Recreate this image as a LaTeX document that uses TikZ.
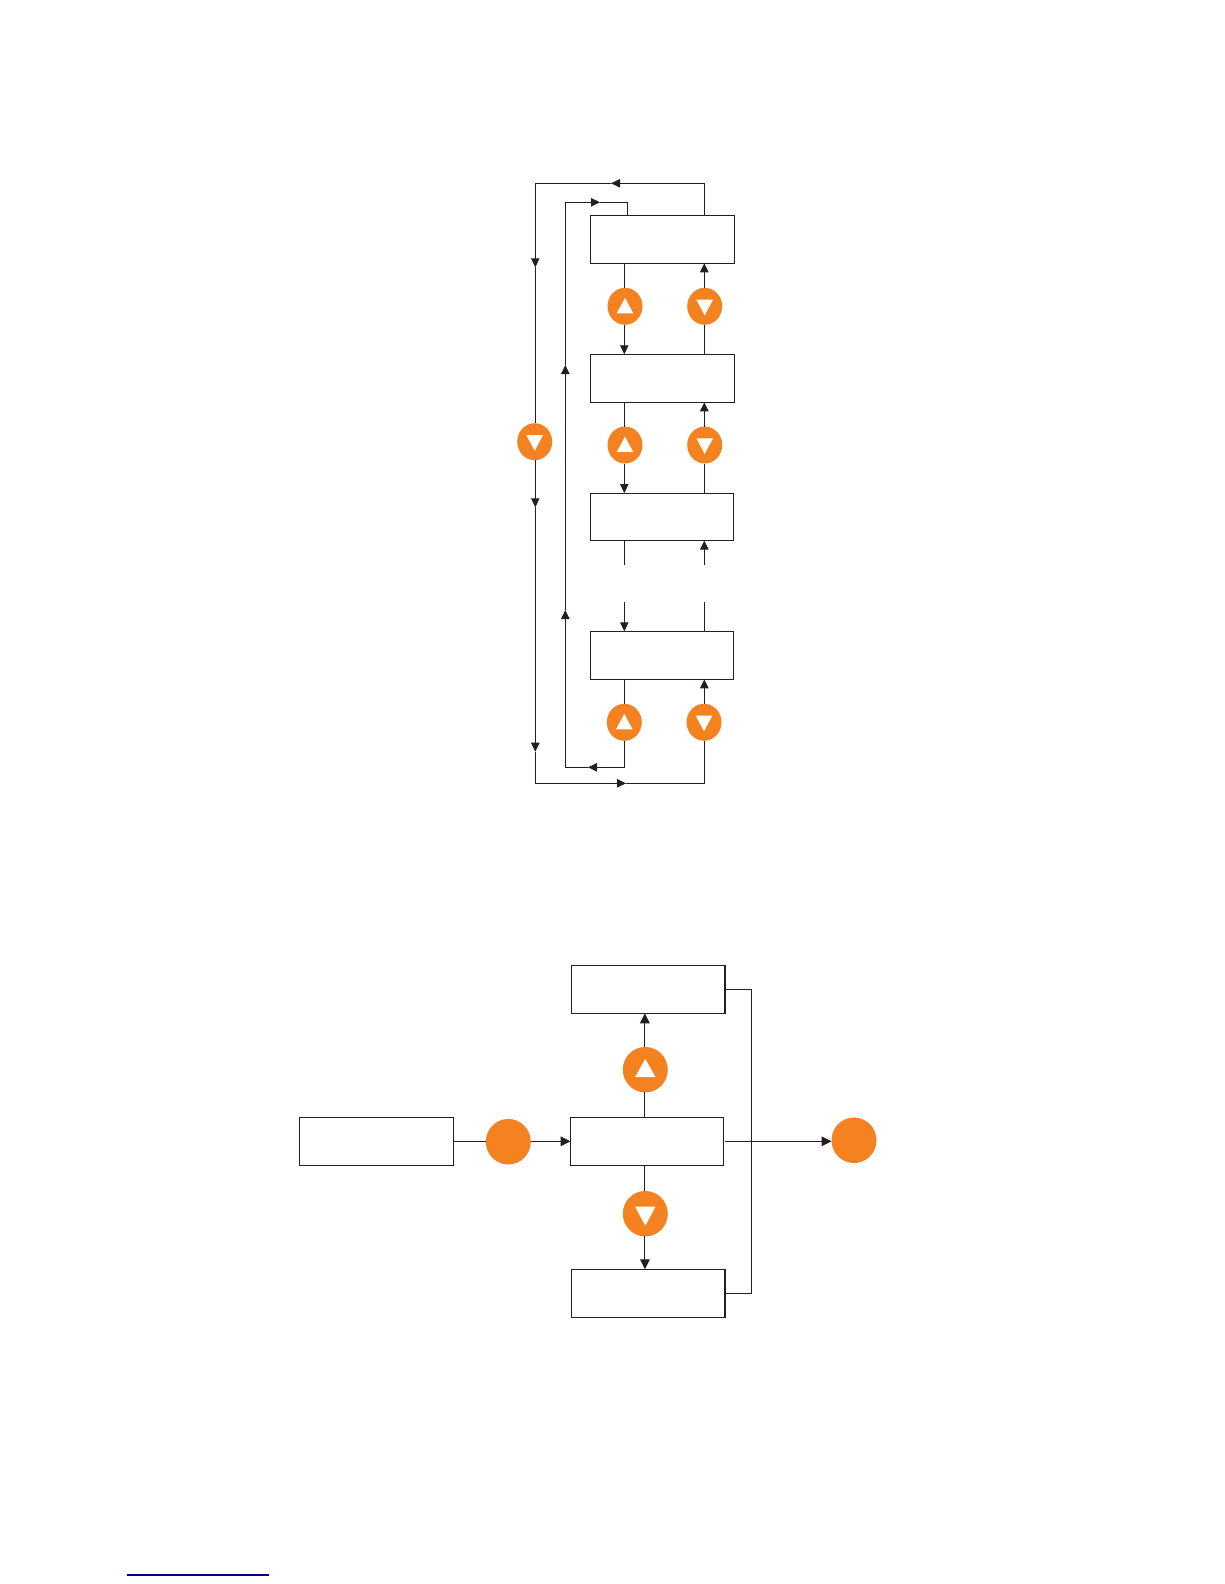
\documentclass[tikz,border=0pt]{standalone}
\usetikzlibrary{shapes.geometric,arrows.meta}
\definecolor{ink}{HTML}{231F20}
\definecolor{btn}{HTML}{F58220}
\definecolor{rule}{HTML}{00007F}
\tikzset{
  box/.style={draw=ink,line width=1.1pt,fill=white,inner sep=0pt,outer sep=0pt,rectangle},
  wboxA/.style={box,minimum width=144pt,minimum height=48pt},
  wboxB/.style={box,minimum width=143pt,minimum height=47.5pt},
  wboxC/.style={box,minimum width=153.5pt,minimum height=48pt},
  smallbtn/.style={ellipse,fill=btn,inner sep=0pt,outer sep=0pt,minimum width=35pt,minimum height=37pt},
  bigbtn/.style={ellipse,fill=btn,inner sep=0pt,outer sep=0pt,minimum width=45pt,minimum height=45.5pt},
  conn/.style={draw=ink,line width=1.1pt},
  tip/.style={conn,-{Triangle[length=9pt,width=8.4pt,color=ink]}},
  bigtip/.style={conn,-{Triangle[length=10pt,width=9.6pt,color=ink]}},
  smallup/.pic={\fill[white] (-8.3,7)--(8.3,7)--(0,-8.4)--cycle;},
  smalldown/.pic={\fill[white] (-8.3,-6.6)--(8.3,-6.6)--(0,9)--cycle;},
  bigup/.pic={\fill[white] (-10.3,7.5)--(10.3,7.5)--(0,-10.8)--cycle;},
  bigdown/.pic={\fill[white] (-10.3,-7.2)--(10.3,-7.2)--(0,12)--cycle;},
}
\begin{document}
\begin{tikzpicture}[x=1pt,y=-1pt]
\useasboundingbox (0,0) rectangle (1224,1584);
\fill[white] (0,0) rectangle (1224,1584);

% upper diagram: boxes
\node[wboxA] (A) at (662.3,239.3) {};
\node[wboxA] (B) at (662.3,378.3) {};
\node[wboxB] (C) at (661.8,516.8) {};
\node[wboxA,minimum width=143pt] (D) at (661.8,655.3) {};

% column guides
\coordinate (cL) at (624.3,0);
\coordinate (cR) at (704.3,0);
\coordinate (cO) at (535.3,0);
\coordinate (cI) at (565.3,0);
\coordinate (cT) at (627.3,0);

% buttons
\node[smallbtn] (u1) at (625,306.3) {};
\node[smallbtn] (d1) at (704.7,306.3) {};
\node[smallbtn] (u2) at (625,445) {};
\node[smallbtn] (d2) at (704.7,445) {};
\node[smallbtn] (u4) at (624.3,722.3) {};
\node[smallbtn] (d4) at (704,722.3) {};
\node[smallbtn] (dO) at (534.7,441.7) {};

\pic at (u1) {smallup};
\pic at (d1) {smalldown};
\pic at (u2) {smallup};
\pic at (d2) {smalldown};
\pic at (u4) {smallup};
\pic at (d4) {smalldown};
\pic at (dO) {smalldown};

% columns between boxes
\draw[conn] (A.south -| cL) -- (u1.north -| cL);
\draw[tip]  (u1.south -| cL) -- (B.north -| cL);
\draw[conn] (B.north -| cR) -- (d1.south -| cR);
\draw[tip]  (d1.north -| cR) -- (A.south -| cR);
\draw[conn] (B.south -| cL) -- (u2.north -| cL);
\draw[tip]  (u2.south -| cL) -- (C.north -| cL);
\draw[conn] (C.north -| cR) -- (d2.south -| cR);
\draw[tip]  (d2.north -| cR) -- (B.south -| cR);

% broken columns between third and fourth box
\coordinate (gLa) at (624.3,564.7);
\coordinate (gLb) at (624.3,602);
\coordinate (gRa) at (704.3,564.7);
\coordinate (gRb) at (704.3,602);
\draw[conn] (C.south -| cL) -- (gLa);
\draw[tip]  (gLb) -- (D.north -| cL);
\draw[conn] (D.north -| cR) -- (gRb);
\draw[tip]  (gRa) -- (C.south -| cR);

\draw[conn] (D.south -| cL) -- (u4.north -| cL);
\draw[tip]  (d4.north -| cR) -- (D.south -| cR);

% outer loop
\coordinate (oTop) at (704.3,183.3);
\coordinate (oTip) at (611,183.3);
\coordinate (oTL)  at (535.3,183.3);
\coordinate (oD1)  at (535.3,267.3);
\coordinate (oD2)  at (535.3,507.3);
\coordinate (oD3)  at (535.3,751.7);
\coordinate (oBL)  at (535.3,783.3);
\coordinate (oB)   at (626,783.3);
\coordinate (oBR)  at (704.3,783.3);
\draw[tip]  (A.north -| cR) -- (oTop) -- (oTip);
\draw[tip]  (oTip) -- (oTL) -- (oD1);
\draw[conn] (oD1) -- (dO.north -| cO);
\draw[tip]  (dO.south -| cO) -- (oD2);
\draw[tip]  (oD2) -- (oD3);
\draw[tip]  (oD3) -- (oBL) -- (oB);
\draw[conn] (oB) -- (oBR) -- (d4.south -| cR);

% inner loop
\coordinate (iBR) at (624.3,767.3);
\coordinate (iB)  at (588,767.3);
\coordinate (iBL) at (565.3,767.3);
\coordinate (iU1) at (565.3,610);
\coordinate (iU2) at (565.3,365);
\coordinate (iTL) at (565.3,202.3);
\coordinate (iT)  at (600,202.3);
\coordinate (iTR) at (627.3,202.3);
\draw[tip]  (u4.south -| cL) -- (iBR) -- (iB);
\draw[tip]  (iB) -- (iBL) -- (iU1);
\draw[tip]  (iU1) -- (iU2);
\draw[tip]  (iU2) -- (iTL) -- (iT);
\draw[conn] (iT) -- (iTR) -- (A.north -| cT);

% lower diagram
\node[wboxC] (E) at (648.2,989.3) {};
\node[wboxC,minimum width=153pt] (F) at (647.1,1141.3) {};
\node[wboxC] (G) at (648.2,1293.3) {};
\node[wboxC] (H) at (376.6,1141.3) {};

\coordinate (cV) at (644.9,0);
\coordinate (cB) at (751.7,0);

\node[bigbtn] (in)  at (508.3,1141.7) {};
\node[bigbtn] (out) at (854,1140.3) {};
\node[bigbtn] (up)  at (645.3,1069.7) {};
\node[bigbtn] (dn)  at (645.3,1213.7) {};
\pic at (up) {bigup};
\pic at (dn) {bigdown};

\draw[conn] (H.east) -- (in.west |- H.east);
\draw[bigtip]  (in.east |- F.west) -- (F.west);
\draw[conn] (F.north -| cV) -- (up.south -| cV);
\draw[bigtip]  (up.north -| cV) -- (E.south -| cV);
\draw[conn] (F.south -| cV) -- (dn.north -| cV);
\draw[bigtip]  (dn.south -| cV) -- (G.north -| cV);
\draw[conn] (E.east) -- (E.east -| cB) -- (G.east -| cB) -- (G.east);
\draw[bigtip,shorten <=1pt] (F.east) -- (out.west |- F.east);

% rule at page foot
\coordinate (ruleL) at (127,1575);
\coordinate (ruleR) at (269,1575);
\draw[rule,line width=1.2pt] (ruleL) -- (ruleR);
\end{tikzpicture}
\end{document}
